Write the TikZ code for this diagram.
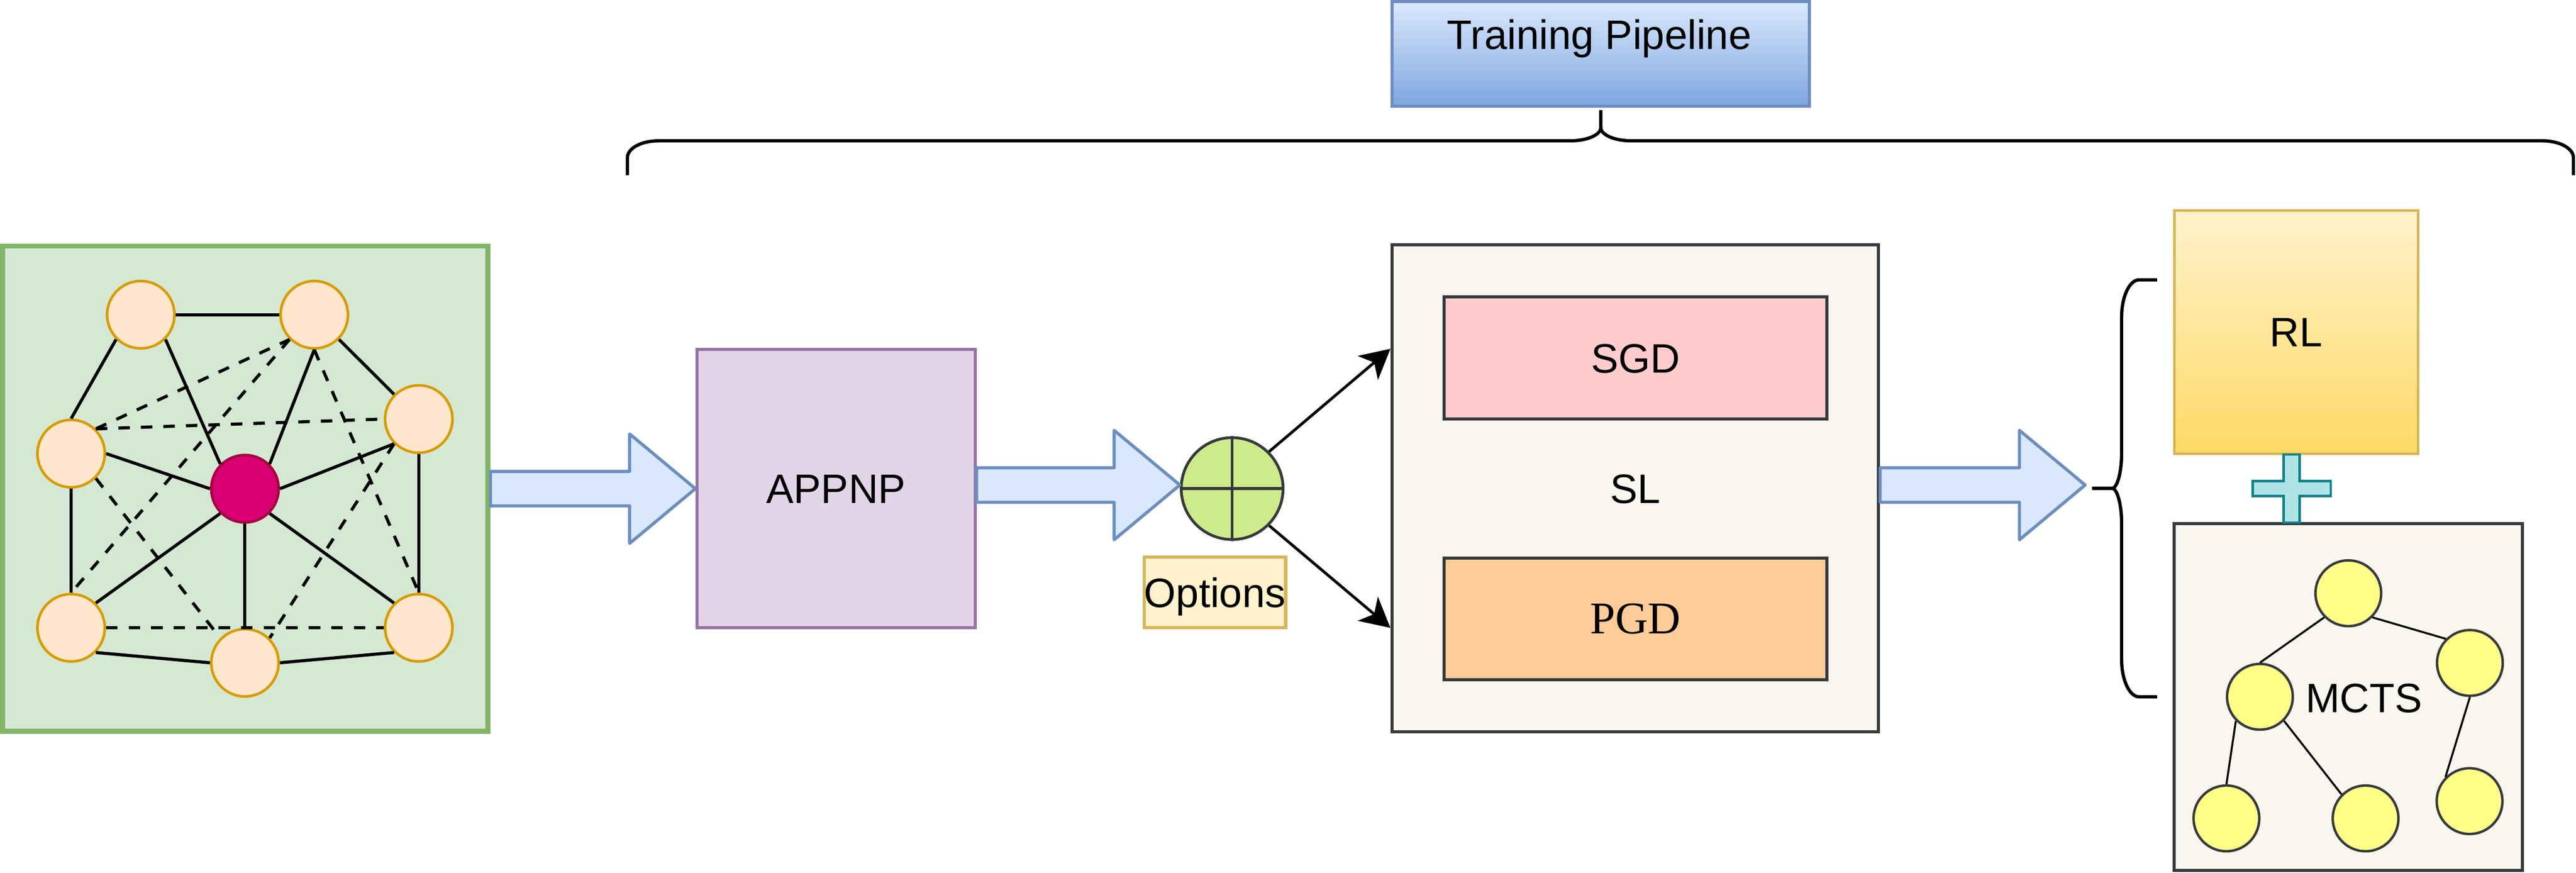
\documentclass[tikz,border=0pt]{standalone}
\usepackage{fontspec}
\setmainfont{Liberation Sans}
\newfontfamily\serifpgd{Liberation Serif}
\usetikzlibrary{calc,arrows.meta}
\definecolor{cGreenF}{HTML}{D5E8D4}
\definecolor{cGreenS}{HTML}{82B366}
\definecolor{cOrangeF}{HTML}{FFE6CC}
\definecolor{cOrangeS}{HTML}{D79B00}
\definecolor{cRedF}{HTML}{D80073}
\definecolor{cRedS}{HTML}{A50040}
\definecolor{cBlueF}{HTML}{DAE8FC}
\definecolor{cBlueS}{HTML}{6C8EBF}
\definecolor{cBlueB}{HTML}{7EA6E0}
\definecolor{cPurF}{HTML}{E1D5E7}
\definecolor{cPurS}{HTML}{9673A6}
\definecolor{cLime}{HTML}{CDEB8B}
\definecolor{cDark}{HTML}{36393D}
\definecolor{cOptF}{HTML}{FFF2CC}
\definecolor{cOptS}{HTML}{D6B656}
\definecolor{cRLb}{HTML}{FFD966}
\definecolor{cPaper}{HTML}{F9F7ED}
\definecolor{cSGD}{HTML}{FFCCCC}
\definecolor{cPGD}{HTML}{FFCC99}
\definecolor{cPlusF}{HTML}{B0E3E6}
\definecolor{cPlusS}{HTML}{0E8088}
\definecolor{cYellow}{HTML}{FFFF88}
\newcommand{\blockarr}[2]{\draw[barrow] let \p1=#1, \p2=#2 in
  (\x1,\y1+10.5pt) -- (\x2-40pt,\y1+10.5pt) -- (\x2-40pt,\y1+33.3pt) -- (\x2,\y1)
  -- (\x2-40pt,\y1-33.3pt) -- (\x2-40pt,\y1-10.5pt) -- (\x1,\y1-10.5pt) -- cycle;}
\begin{document}
\begin{tikzpicture}[x=1pt,y=-1pt,
  txt/.style={font=\fontsize{25}{30}\selectfont, text height=17.9pt, text depth=0pt, inner sep=0pt},
  box/.style={draw, rectangle, line width=1.9pt, txt},
  gnode/.style={circle, draw=cOrangeS, fill=cOrangeF, line width=1.6pt, minimum size=41pt, inner sep=0pt},
  gcenter/.style={gnode, draw=cRedS, fill=cRedF},
  gedge/.style={line width=1.9pt},
  gdash/.style={gedge, dash pattern=on 7pt off 6.7pt},
  tnode/.style={circle, draw=cDark, fill=cYellow, line width=1.5pt, minimum size=40pt, inner sep=0pt},
  tedge/.style={line width=1.2pt},
  barrow/.style={draw=cBlueS, fill=cBlueF, line width=1.9pt, line join=round},
  conn/.style={line width=1.7pt, -{Stealth[length=18pt,width=19pt,inset=5pt]}},
  bracestyle/.style={line width=2pt},
]
\useasboundingbox (0,0) rectangle (1568,531.1);

% ---- input graph ----
\node[box, draw=cGreenS, fill=cGreenF, line width=3pt, minimum width=295.5pt, minimum height=295.3pt] (graph) at (149.25,297.35) {};
\node[gnode] (n1) at (85.7,191.5) {};
\node[gnode] (n2) at (191.3,191.5) {};
\node[gnode] (n3) at (43.3,276) {};
\node[gnode] (n4) at (254.9,255) {};
\node[gnode] (n5) at (43.3,382) {};
\node[gnode] (n6) at (149.1,403.3) {};
\node[gnode] (n7) at (254.9,382) {};
\node[gcenter] (gc) at (149.1,297.4) {};
\draw[gedge] (n1.east) -- (n2.west);
\draw[gedge] (n1.south west) -- (n3.north);
\draw[gedge] (n1.south east) -- (gc.north west);
\draw[gedge] (n2.south) -- (gc.north east);
\draw[gedge] (n2.south east) -- (n4.north west);
\draw[gedge] (n3.east) -- (gc.west);
\draw[gedge] (n4.south west) -- (gc.east);
\draw[gedge] (n3.south) -- (n5.north);
\draw[gedge] (n4.south) -- (n7.north);
\draw[gedge] (n5.north east) -- (gc.south west);
\draw[gedge] (gc.south) -- (n6.north);
\draw[gedge] (gc.south east) -- (n7.north west);
\draw[gedge] (n5.south east) -- (n6.west);
\draw[gedge] (n6.east) -- (n7.south west);
\draw[gdash] (n3.north east) -- (n2.south west);
\draw[gdash] (n3.north east) -- (n4.west);
\draw[gdash] (n2.south west) -- (n5.north);
\draw[gdash] (n2.south) -- (n7.north);
\draw[gdash] (n3.south east) -- (n6.north west);
\draw[gdash] (n4.south west) -- (n6.north east);
\draw[gdash] (n5.east) -- (n7.west);

% ---- APPNP and combiner ----
\node[box, draw=cPurS, fill=cPurF, minimum width=169.3pt, minimum height=169.5pt] (appnp) at (508.85,297.25) {APPNP};
\node[circle, draw=cDark, fill=cLime, line width=1.7pt, minimum size=62pt, inner sep=0pt] (cir) at (750,297.3) {};
\draw[cDark, line width=1.7pt] (cir.north) -- (cir.south) (cir.west) -- (cir.east);
\node[box, draw=cOptS, fill=cOptF, minimum width=85pt, minimum height=43pt] (opts) at (739.5,360.5) {Options};

% ---- SL block ----
\node[box, draw=cDark, fill=cPaper, minimum width=296.2pt, minimum height=296.1pt] (sl) at (995.4,297.15) {SL};
\node[box, draw=cDark, fill=cSGD, minimum width=233.2pt, minimum height=74.3pt] (sgd) at (995.5,217.85) {SGD};
\node[box, draw=cDark, fill=cPGD, minimum width=233.2pt, minimum height=74pt, font=\serifpgd\fontsize{27.6}{32}\selectfont, text height=18.3pt] (pgd) at (995.5,376.5) {PGD};
\coordinate (slup) at ($(sl.north west)!0.215!(sl.south west)$);
\coordinate (sldn) at ($(sl.north west)!0.785!(sl.south west)$);
\draw[conn] (cir.north east) -- (slup);
\draw[conn] (cir.south east) -- (sldn);

% ---- RL + MCTS ----
\node[box, draw=cOptS, top color=cOptF, bottom color=cRLb, line width=1.6pt, minimum width=148.5pt, minimum height=148.1pt] (rl) at (1397.65,202.05) {RL};
\node[box, draw=cDark, fill=cPaper, minimum width=212pt, minimum height=211.1pt] (mcts) at (1429.4,424.25) {};
\node[txt] (mctslbl) at (1438.9,424.5) {MCTS};
\node[tnode] (root) at (1429.4,361) {};
\node[tnode] (ml) at (1375.6,424) {};
\node[tnode] (rt) at (1503.4,403.4) {};
\node[tnode] (bl) at (1355.2,498) {};
\node[tnode] (bm) at (1439.9,498) {};
\node[tnode] (br) at (1503.2,487.5) {};
\draw[tedge] (root.south west) -- (ml.north);
\draw[tedge] (root.south east) -- (rt.north west);
\draw[tedge] (ml.south west) -- (bl.north);
\draw[tedge] (ml.south east) -- (bm.north west);
\draw[tedge] (rt.south) -- (br.north west);
\coordinate (plusc) at (1394.9,297.3);
\draw[draw=cPlusS, fill=cPlusF, line width=1.5pt] (plusc) ++(-4.8,-20.7) -- ++(9.6,0) -- ++(0,16.2) -- ++(19,0) -- ++(0,9) -- ++(-19,0) -- ++(0,16.2) -- ++(-9.6,0) -- ++(0,-16.2) -- ++(-19,0) -- ++(0,-9) -- ++(19,0) -- cycle;

% ---- right brace ----
\coordinate (rbtip) at (1273.4,297.15);
\draw[bracestyle] (1313,170.3) -- (1302,170.3) .. controls (1296.2,170.3) and (1291.4,180.5) .. (1291.4,193) -- (1291.4,276) .. controls (1291.4,287) and (1288.8,297.15) .. (1285.6,297.15) -- (rbtip);
\draw[bracestyle] (1313,424) -- (1302,424) .. controls (1296.2,424) and (1291.4,413.8) .. (1291.4,401.3) -- (1291.4,318.3) .. controls (1291.4,307.3) and (1288.8,297.15) .. (1285.6,297.15);

% ---- block arrows ----
\blockarr{(graph.east)}{(appnp.west)}
\blockarr{([yshift=2.1pt]appnp.east)}{(cir.west)}
\blockarr{([yshift=2pt]sl.east)}{([xshift=-4.2pt]rbtip)}

% ---- training pipeline ----
\node[box, draw=cBlueS, top color=cBlueF, bottom color=cBlueB, minimum width=254pt, minimum height=63.6pt] (tp) at (974.4,32.8) {};
\node[txt, anchor=base] (tplbl) at (973.5,30) {Training Pipeline};
\draw[bracestyle] (381.9,106.6) -- (381.9,95.9) .. controls (381.9,90.3) and (390.3,85.7) .. (400.6,85.7) -- (955.6,85.7) .. controls (966,85.7) and (974.4,82.1) .. (974.4,77.6) -- (974.4,67);
\draw[bracestyle] (1566.4,106.6) -- (1566.4,95.9) .. controls (1566.4,90.3) and (1558,85.7) .. (1547.7,85.7) -- (993.2,85.7) .. controls (982.8,85.7) and (974.4,82.1) .. (974.4,77.6);
\end{tikzpicture}
\end{document}
